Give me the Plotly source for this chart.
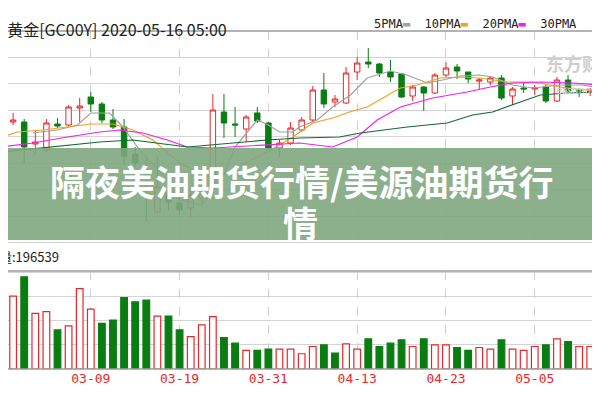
import plotly.graph_objects as go
from plotly.subplots import make_subplots

# daily candles, 02-26 .. 05-15 (index = trading day)
opens = [1630, 1646, 1646, 1602, 1590, 1642, 1640, 1674, 1696, 1682, 1650, 1636, 1582, 1540,
         1466, 1504, 1484, 1474, 1494, 1514, 1666, 1642, 1632, 1664, 1644, 1594, 1604, 1630,
         1650, 1710, 1686, 1684, 1746, 1766, 1762, 1746, 1742, 1698, 1716, 1704, 1740, 1756,
         1746, 1728, 1726, 1734, 1698, 1714, 1712, 1716, 1688, 1730, 1710, 1706]
highs = [1656, 1664, 1652, 1630, 1652, 1654, 1680, 1694, 1706, 1686, 1672, 1652, 1596, 1576,
         1576, 1524, 1504, 1516, 1516, 1702, 1702, 1676, 1660, 1676, 1646, 1610, 1646, 1656,
         1718, 1744, 1700, 1756, 1776, 1794, 1764, 1770, 1744, 1720, 1718, 1744, 1766, 1762,
         1746, 1734, 1736, 1740, 1716, 1726, 1720, 1720, 1736, 1740, 1714, 1714]
lows = [1626, 1640, 1564, 1580, 1586, 1634, 1638, 1646, 1666, 1644, 1632, 1560, 1556, 1446,
        1464, 1470, 1460, 1456, 1484, 1490, 1614, 1616, 1606, 1644, 1590, 1576, 1600, 1626,
        1646, 1674, 1676, 1682, 1730, 1754, 1736, 1726, 1694, 1688, 1668, 1702, 1736, 1732,
        1724, 1710, 1720, 1690, 1680, 1704, 1700, 1684, 1686, 1706, 1696, 1698]
closes = [1640, 1650, 1596, 1606, 1644, 1638, 1676, 1678, 1682, 1650, 1636, 1578, 1564, 1536,
          1516, 1486, 1470, 1500, 1504, 1670, 1644, 1640, 1656, 1648, 1594, 1604, 1634, 1650,
          1710, 1682, 1692, 1744, 1764, 1762, 1744, 1736, 1696, 1716, 1704, 1740, 1754, 1748,
          1732, 1730, 1734, 1694, 1712, 1712, 1714, 1688, 1730, 1708, 1708, 1708]

volumes = [203, 220, 278, 168, 173, 118, 130, 243, 181, 138, 148, 216, 203, 208, 160, 160, 118,
           98, 133, 158, 95, 78, 56, 56, 60, 60, 60, 46, 68, 73, 48, 76, 60, 91, 68, 78, 88, 68,
           91, 73, 73, 65, 56, 65, 60, 88, 60, 56, 68, 73, 91, 83, 68, 68]
volumes = [v * 1000 for v in volumes]
vol_up = "RRGRRGRRRGGGGGRGGRRRGGRGGRRRRGGRRGGGGRGRRGGRRGRRRGRGRR"

# moving averages (index, price)
ma5_x = [2.8, 5, 6.8, 8, 9.7, 10.9, 12.4, 14.5, 16, 18, 20, 21, 23, 24, 25, 26.2, 26.8, 28.4,
         29.8, 31.4, 32.9, 35, 36.5, 38.3, 39.7, 41.3, 43, 44.2, 46, 47.8, 50.3, 52.3, 53.9]
ma5_y = [1624, 1630, 1640, 1664, 1664, 1636, 1590, 1540, 1490, 1480, 1540, 1596, 1650, 1640,
         1626, 1626, 1636, 1650, 1676, 1700, 1734, 1748, 1740, 1724, 1730, 1738, 1740, 1736,
         1720, 1714, 1720, 1720, 1714]
ma10_x = [0, 1.4, 3.7, 5.9, 8, 10, 11.8, 13.6, 16, 19, 21.5, 23.9, 26.2, 28, 29.8, 31.3, 32.9,
          34.3, 35.9, 37.4, 39.5, 41.3, 43, 45.5, 47.8, 50.3, 52.3, 53.9]
ma10_y = [1616, 1626, 1630, 1636, 1642, 1642, 1630, 1610, 1564, 1532, 1560, 1586, 1616, 1644,
          1654, 1666, 1676, 1694, 1714, 1720, 1734, 1736, 1734, 1726, 1726, 1716, 1710, 1712]
ma20_x = [0, 2.8, 5.9, 8.8, 10.6, 12.7, 14.9, 16.7, 19, 23.9, 26.8, 29.8, 32, 33.8, 35.9, 38.8,
          41.9, 44, 46, 48.5, 51.4, 53.9]
ma20_y = [1596, 1604, 1616, 1626, 1630, 1624, 1610, 1596, 1594, 1600, 1604, 1596, 1616, 1650,
          1676, 1694, 1706, 1716, 1724, 1726, 1724, 1720]
ma30_x = [0, 4.3, 8.8, 11.8, 16.7, 23.9, 26.8, 30.4, 32.3, 36.5, 40.1, 42.4, 44.2, 46.7, 48.5,
          50.9, 53.9]
ma30_y = [1586, 1596, 1606, 1610, 1596, 1610, 1614, 1616, 1624, 1636, 1644, 1660, 1666, 1686,
          1700, 1704, 1706]

tick_idx = [0, 8, 16, 24, 32, 40, 48]
tick_txt = ["02-26", "03-09", "03-19", "03-31", "04-13", "04-23", "05-05"]

RED = "#e8262a"
GREEN = "#0a7d12"
idx = list(range(len(opens)))

fig = make_subplots(rows=2, cols=1, shared_xaxes=True)

fig.add_trace(go.Candlestick(
    x=idx, open=opens, high=highs, low=lows, close=closes,
    increasing=dict(line=dict(color=RED, width=1), fillcolor="white"),
    decreasing=dict(line=dict(color=GREEN, width=1), fillcolor=GREEN),
    whiskerwidth=0, showlegend=False), row=1, col=1)

for mx, my, c in [(ma5_x, ma5_y, "#a0a0a0"), (ma10_x, ma10_y, "#f0a020"),
                  (ma20_x, ma20_y, "#f020f0"), (ma30_x, ma30_y, "#106a30")]:
    fig.add_trace(go.Scatter(x=mx, y=my, mode="lines", line=dict(color=c, width=1.2),
                             showlegend=False, hoverinfo="skip"), row=1, col=1)

fig.add_trace(go.Bar(
    x=idx, y=volumes, width=0.6,
    marker=dict(color=["white" if u == "R" else GREEN for u in vol_up],
                line=dict(color=[RED if u == "R" else GREEN for u in vol_up], width=1.2)),
    showlegend=False), row=2, col=1)

# the page puts the plot 8px in from the top-left corner; axes are laid out to allow for it
grid = dict(showgrid=True, gridcolor="#cfcfcf", griddash="dash", gridwidth=1)
fig.update_xaxes(range=[0.54, 54.6], tickvals=tick_idx, zeroline=False,
                 showline=False, rangeslider_visible=False, **grid)
fig.update_xaxes(showticklabels=False, row=1, col=1)
fig.update_xaxes(ticktext=tick_txt, showticklabels=True, ticks="",
                 tickfont=dict(color=RED, size=13, family="DejaVu Sans Mono"), row=2, col=1)
fig.update_yaxes(showticklabels=False, zeroline=False, gridcolor="#d4d4d4", gridwidth=1)
fig.update_yaxes(range=[1400, 1828], tick0=1670, dtick=53, row=1, col=1)
fig.update_yaxes(range=[0, 296000], tick0=0, dtick=73000, row=2, col=1)

fig.update_layout(
    width=600, height=400, margin=dict(l=0, r=0, t=0, b=0, autoexpand=False),
    plot_bgcolor="white", paper_bgcolor="white", bargap=0.4,
    yaxis=dict(domain=[0.4075, 0.9425]),
    yaxis2=dict(domain=[0.0975, 0.3425]),
    font=dict(family="Noto Sans CJK SC"),
)

# panel borders
for yy in [0.9425, 0.3425, 0.0975]:
    fig.add_shape(type="line", xref="paper", yref="paper", x0=0, x1=1, y0=yy, y1=yy,
                  line=dict(color="#9a9a9a", width=1.5))

fig.add_annotation(x=-0.02, y=0.982, xref="paper", yref="paper", xanchor="left",
                   text="X黄金[GC00Y] 2020-05-16 05:00", showarrow=False,
                   font=dict(size=16, color="#222", family="Noto Sans CJK SC"))
fig.add_annotation(x=0.607, y=0.982, xref="paper", yref="paper", xanchor="left",
                   text=("5PMA<span style='color:#a0a0a0'>▬</span>  10PMA"
                         "<span style='color:#f0a020'>▬</span>  20PMA"
                         "<span style='color:#f020f0'>▬</span>  30PMA"),
                   showarrow=False, font=dict(size=12, color="#222", family="DejaVu Sans Mono"))
fig.add_annotation(x=-0.018, y=0.38, xref="paper", yref="paper", xanchor="left",
                   text="量:196539", showarrow=False,
                   font=dict(size=13, color="#222", family="Noto Sans CJK SC"))
fig.add_annotation(x=1.02, y=0.9, xref="paper", yref="paper", xanchor="right",
                   text="<b>东方财富</b><br><span style='font-size:10px'>eastmoney</span>",
                   showarrow=False, font=dict(size=18, color="#cfcfcf"))

# overlay banner
fig.add_shape(type="rect", xref="paper", yref="paper", x0=0, x1=1, y0=0.42, y1=0.65,
              fillcolor="rgba(128,166,128,0.9)", line=dict(width=0), layer="above")
fig.add_annotation(x=0.49, y=0.57, xref="paper", yref="paper",
                   text="<b>隔夜美油期货行情/美源油期货行</b>", showarrow=False,
                   font=dict(size=35, color="white", family="Noto Sans CJK SC"))
fig.add_annotation(x=0.487, y=0.465, xref="paper", yref="paper",
                   text="<b>情</b>", showarrow=False,
                   font=dict(size=35, color="white", family="Noto Sans CJK SC"))

fig.write_html("out.html")
